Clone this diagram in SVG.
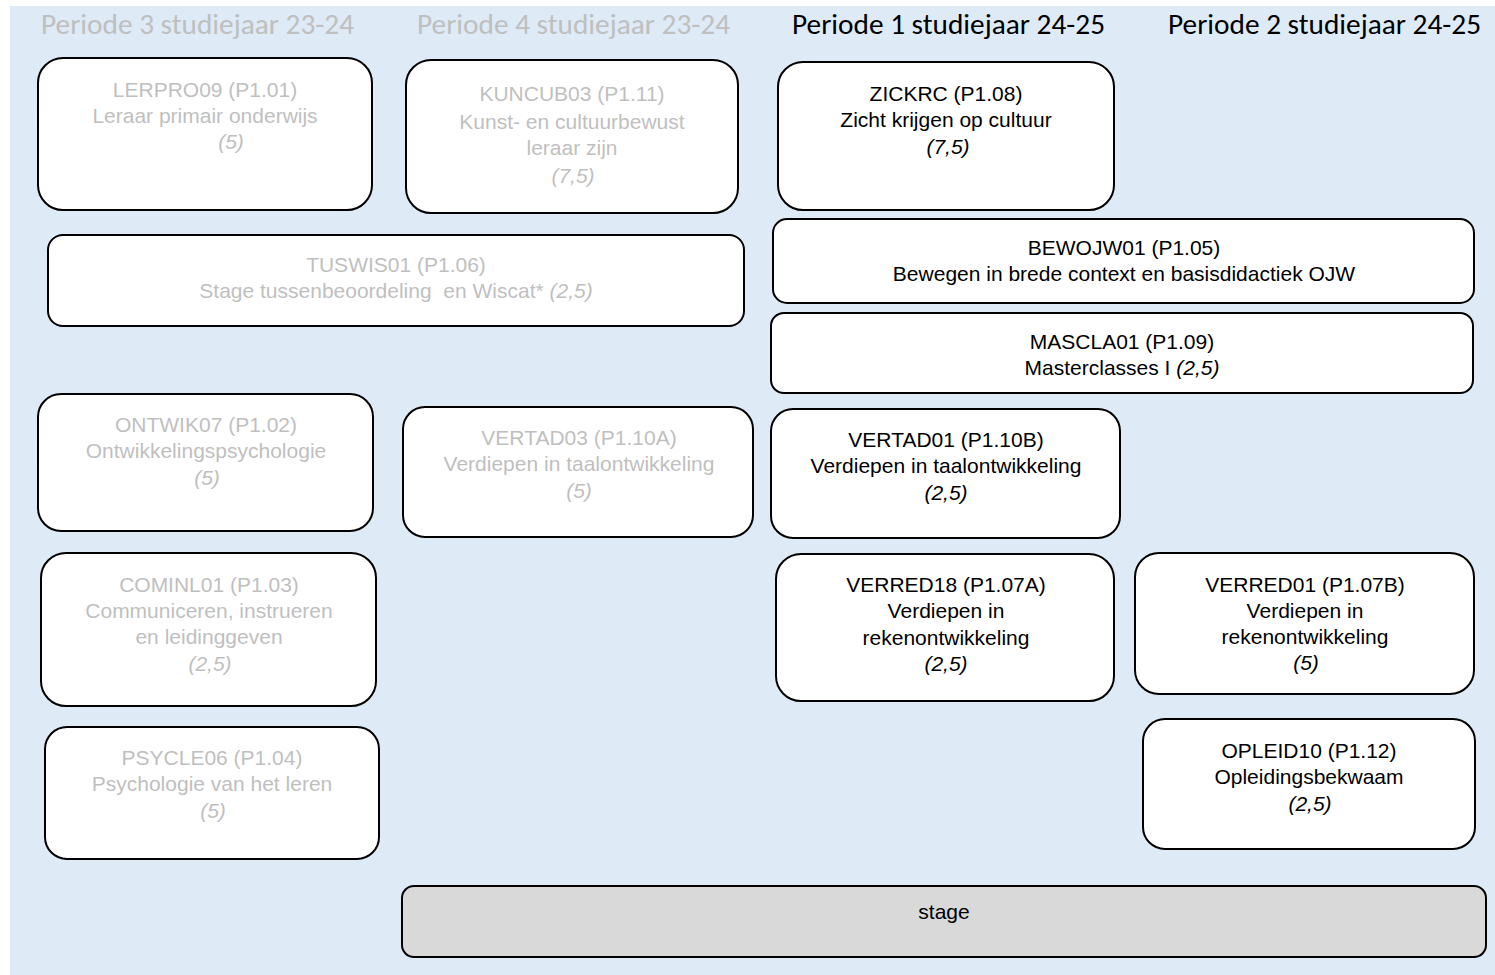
<svg xmlns="http://www.w3.org/2000/svg" width="1495" height="975" viewBox="0 0 1495 975">
<style>
.bg{fill:#DEEAF6}
.box{fill:#FFFFFF;stroke:#000000;stroke-width:2}
.stage{fill:#D9D9D9;stroke:#000000;stroke-width:2}
.hd{font-family:"Carlito","Open Sans","Liberation Sans",sans-serif;font-size:29px;font-weight:400;text-anchor:middle}
.t{font-family:"Liberation Sans",Arial,sans-serif;font-size:21px;text-anchor:middle}
.g{fill:#BFBFBF}
.k{fill:#000000}
.i{font-style:italic}
</style>
<rect class="bg" x="10" y="6" width="1485" height="969"/>
<g id="headers">
<text class="hd g" x="197.5" y="34" textLength="313" lengthAdjust="spacingAndGlyphs">Periode 3 studiejaar 23-24</text>
<text class="hd g" x="573.5" y="34" textLength="313" lengthAdjust="spacingAndGlyphs">Periode 4 studiejaar 23-24</text>
<text class="hd k" x="948.5" y="34" textLength="313" lengthAdjust="spacingAndGlyphs">Periode 1 studiejaar 24-25</text>
<text class="hd k" x="1324.5" y="34" textLength="313" lengthAdjust="spacingAndGlyphs">Periode 2 studiejaar 24-25</text>
</g>
<g id="connectors"></g>
<g id="LERPRO09">
<rect class="box" x="38" y="58" width="334" height="152" rx="25"/>
<text class="t g" x="205" y="96.5">LERPRO09 (P1.01)</text>
<text class="t g" x="205" y="122.5">Leraar primair onderwijs</text>
<text class="t g i" x="231" y="149">(5)</text>
</g>
<g id="KUNCUB03">
<rect class="box" x="406" y="60" width="332" height="153" rx="25"/>
<text class="t g" x="572" y="101">KUNCUB03 (P1.11)</text>
<text class="t g" x="572" y="129">Kunst- en cultuurbewust</text>
<text class="t g" x="572" y="155">leraar zijn</text>
<text class="t g i" x="573" y="183">(7,5)</text>
</g>
<g id="ZICKRC">
<rect class="box" x="778" y="62" width="336" height="148" rx="25"/>
<text class="t k" x="946" y="100.5">ZICKRC (P1.08)</text>
<text class="t k" x="946" y="127">Zicht krijgen op cultuur</text>
<text class="t k i" x="948" y="153.5">(7,5)</text>
</g>
<g id="TUSWIS01">
<rect class="box" x="48" y="235" width="696" height="91" rx="15"/>
<text class="t g" x="396" y="271.5">TUSWIS01 (P1.06)</text>
<text class="t g" x="396" y="297.5" style="white-space:pre">Stage tussenbeoordeling  en Wiscat* <tspan class="i">(2,5)</tspan></text>
</g>
<g id="BEWOJW01">
<rect class="box" x="773" y="219" width="701" height="84" rx="14"/>
<text class="t k" x="1124" y="254.5">BEWOJW01 (P1.05)</text>
<text class="t k" x="1124" y="280.5">Bewegen in brede context en basisdidactiek OJW</text>
</g>
<g id="MASCLA01">
<rect class="box" x="771" y="313" width="702" height="80" rx="13"/>
<text class="t k" x="1122" y="348.5">MASCLA01 (P1.09)</text>
<text class="t k" x="1122" y="374.5">Masterclasses I <tspan class="i">(2,5)</tspan></text>
</g>
<g id="ONTWIK07">
<rect class="box" x="38" y="394" width="335" height="137" rx="23"/>
<text class="t g" x="206" y="432">ONTWIK07 (P1.02)</text>
<text class="t g" x="206" y="458">Ontwikkelingspsychologie</text>
<text class="t g i" x="207" y="485">(5)</text>
</g>
<g id="VERTAD03">
<rect class="box" x="403" y="407" width="350" height="130" rx="22"/>
<text class="t g" x="579" y="444.5">VERTAD03 (P1.10A)</text>
<text class="t g" x="579" y="471">Verdiepen in taalontwikkeling</text>
<text class="t g i" x="579" y="497.5">(5)</text>
</g>
<g id="VERTAD01">
<rect class="box" x="771" y="409" width="349" height="129" rx="22"/>
<text class="t k" x="946" y="446.5">VERTAD01 (P1.10B)</text>
<text class="t k" x="946" y="472.5">Verdiepen in taalontwikkeling</text>
<text class="t k i" x="946" y="499.5">(2,5)</text>
</g>
<g id="COMINL01">
<rect class="box" x="41" y="553" width="335" height="153" rx="25"/>
<text class="t g" x="209" y="591.5">COMINL01 (P1.03)</text>
<text class="t g" x="209" y="617.5">Communiceren, instrueren</text>
<text class="t g" x="209" y="644">en leidinggeven</text>
<text class="t g i" x="210" y="670.5">(2,5)</text>
</g>
<g id="VERRED18">
<rect class="box" x="776" y="554" width="338" height="147" rx="25"/>
<text class="t k" x="946" y="591.5">VERRED18 (P1.07A)</text>
<text class="t k" x="946" y="618">Verdiepen in</text>
<text class="t k" x="946" y="644.5">rekenontwikkeling</text>
<text class="t k i" x="946" y="671">(2,5)</text>
</g>
<g id="VERRED01">
<rect class="box" x="1135" y="553" width="339" height="141" rx="24"/>
<text class="t k" x="1305" y="591.5">VERRED01 (P1.07B)</text>
<text class="t k" x="1305" y="617.5">Verdiepen in</text>
<text class="t k" x="1305" y="643.5">rekenontwikkeling</text>
<text class="t k i" x="1306" y="669.5">(5)</text>
</g>
<g id="PSYCLE06">
<rect class="box" x="45" y="727" width="334" height="132" rx="22"/>
<text class="t g" x="212" y="765">PSYCLE06 (P1.04)</text>
<text class="t g" x="212" y="791">Psychologie van het leren</text>
<text class="t g i" x="213" y="818">(5)</text>
</g>
<g id="OPLEID10">
<rect class="box" x="1143" y="719" width="332" height="130" rx="22"/>
<text class="t k" x="1309" y="757.5">OPLEID10 (P1.12)</text>
<text class="t k" x="1309" y="784">Opleidingsbekwaam</text>
<text class="t k i" x="1310" y="810.5">(2,5)</text>
</g>
<g id="stage">
<rect class="stage" x="402" y="886" width="1084" height="71" rx="12"/>
<text class="t k" x="944" y="919">stage</text>
</g>
</svg>
